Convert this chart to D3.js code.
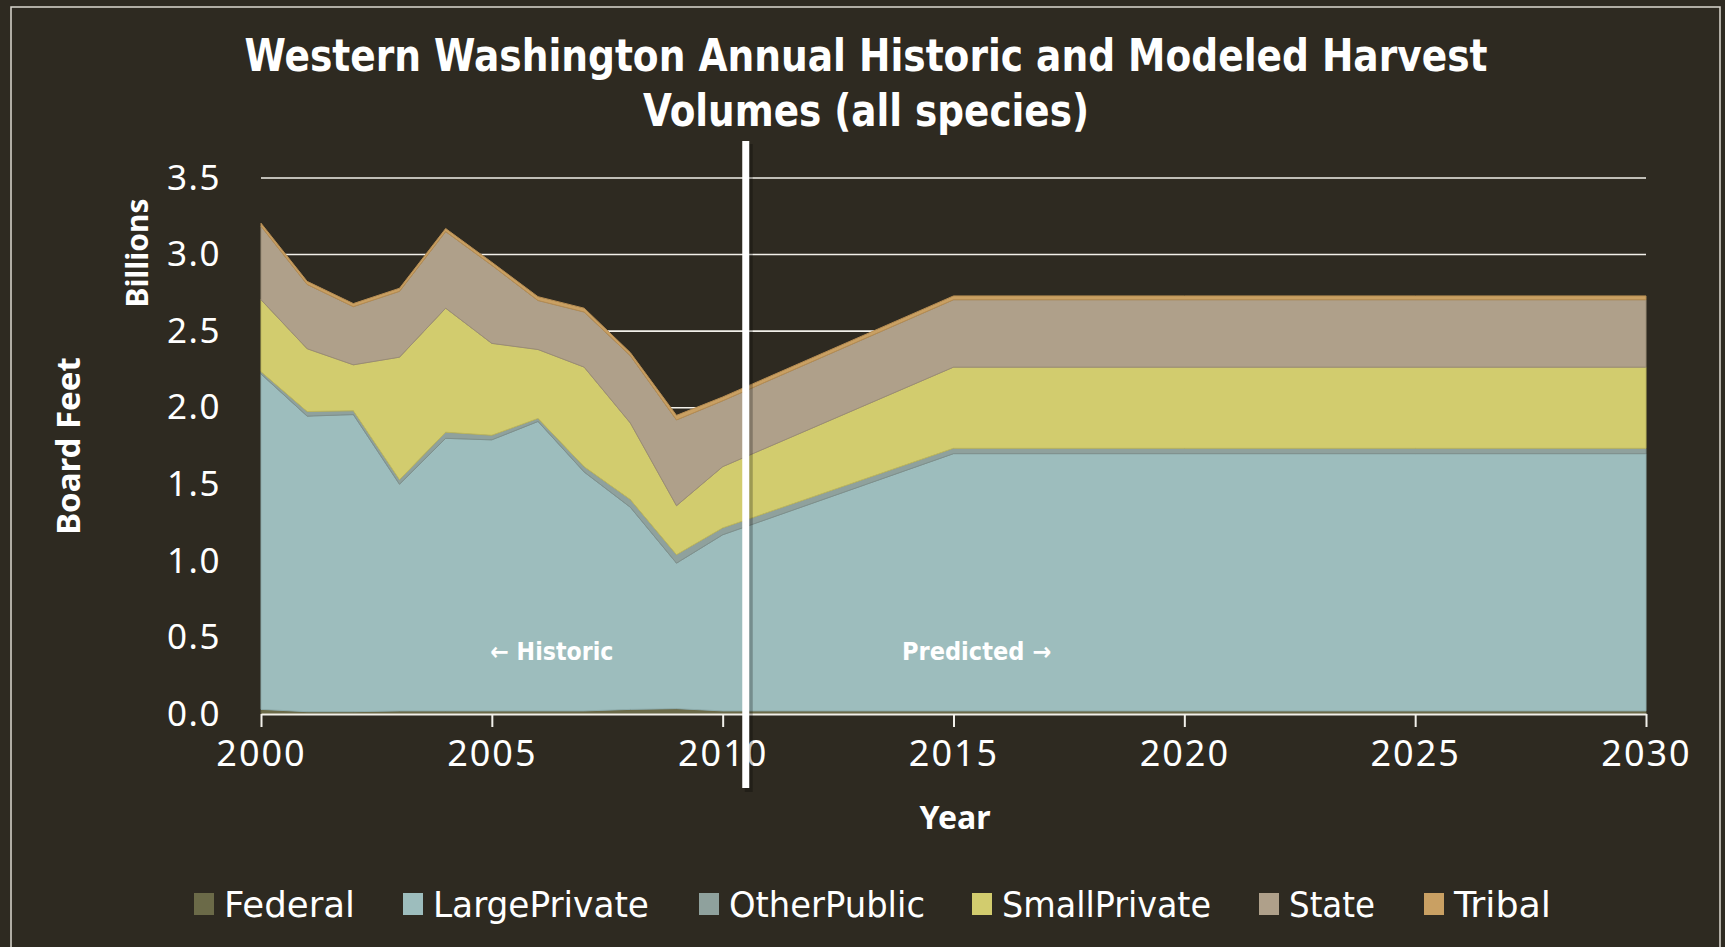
<!DOCTYPE html>
<html>
<head>
<meta charset="utf-8">
<script src="https://d3js.org/d3.v7.min.js"></script>
<style>
  body { margin: 0; background: #2e2a21; }
  svg { display: block; }
</style>
</head>
<body>
<div id="my_dataviz"></div>
<script>
// data (billions of board feet)
var years = [2000, 2001, 2002, 2003, 2004, 2005, 2006, 2007, 2008, 2009, 2010, 2015, 2020, 2025, 2030];
var federal      = [0.03, 0.015, 0.015, 0.02, 0.02, 0.02, 0.02, 0.02, 0.03, 0.035, 0.02, 0.02, 0.02, 0.02, 0.02];
var largePrivate = [2.19, 1.93, 1.94, 1.48, 1.78, 1.77, 1.89, 1.56, 1.32, 0.95, 1.15, 1.68, 1.68, 1.68, 1.68];
var otherPublic  = [0.015, 0.03, 0.025, 0.03, 0.04, 0.03, 0.02, 0.035, 0.05, 0.055, 0.045, 0.035, 0.035, 0.035, 0.035];
var smallPrivate = [0.47, 0.41, 0.30, 0.80, 0.81, 0.60, 0.45, 0.65, 0.50, 0.32, 0.40, 0.53, 0.53, 0.53, 0.53];
var state        = [0.48, 0.42, 0.38, 0.43, 0.50, 0.51, 0.32, 0.36, 0.44, 0.56, 0.43, 0.44, 0.44, 0.44, 0.44];
var tribal       = [0.02, 0.02, 0.02, 0.02, 0.02, 0.02, 0.025, 0.025, 0.02, 0.03, 0.025, 0.025, 0.025, 0.025, 0.025];

var seriesNames = ["Federal", "LargePrivate", "OtherPublic", "SmallPrivate", "State", "Tribal"];
var seriesValues = [federal, largePrivate, otherPublic, smallPrivate, state, tribal];
var colors = ["#6b6a48", "#9dbdbd", "#8fa19d", "#d2cc6e", "#afa08a", "#c9a063"];
var edges  = ["#5e5d3e", "#8eacac", "#7f908c", "#bdb75f", "#9a8c77", "#b58c52"];

var yTicks = [0, 0.5, 1, 1.5, 2, 2.5, 3, 3.5];
var xTicks = [2000, 2005, 2010, 2015, 2020, 2025, 2030];
var splitYear = 2010.5;

var W = 1725, H = 947;
var margin = {top: 178, right: 79, bottom: 233, left: 261};
var width = W - margin.left - margin.right,
    height = H - margin.top - margin.bottom;

var svg = d3.select("#my_dataviz")
  .append("svg")
    .attr("width", W)
    .attr("height", H);

svg.append("rect")
  .attr("width", W).attr("height", H)
  .attr("fill", "#2e2a21");

// thin frame
svg.append("rect")
  .attr("x", 11).attr("y", 7)
  .attr("width", 1709).attr("height", 960)
  .attr("fill", "none")
  .attr("stroke", "#dcd9d0")
  .attr("stroke-width", 1.5);

var g = svg.append("g")
  .attr("transform", "translate(" + margin.left + "," + margin.top + ")");

var x = d3.scaleLinear().domain([2000, 2030]).range([0, width]);
var y = d3.scaleLinear().domain([0, 3.5]).range([height, 0]);

// gridlines
g.append("g")
  .selectAll("line")
  .data(yTicks.slice(1))
  .enter()
  .append("line")
    .attr("x1", 0).attr("x2", width)
    .attr("y1", function(d) { return y(d); })
    .attr("y2", function(d) { return y(d); })
    .attr("stroke", "#f2f0ea")
    .attr("stroke-width", 1.6);

// stack
var table = years.map(function(yr, i) {
  var row = {year: yr};
  seriesNames.forEach(function(n, k) { row[n] = seriesValues[k][i]; });
  return row;
});
var stacked = d3.stack().keys(seriesNames)(table);

var area = d3.area()
  .x(function(d) { return x(d.data.year); })
  .y0(function(d) { return y(d[0]); })
  .y1(function(d) { return y(d[1]); });

g.append("g")
  .selectAll("path")
  .data(stacked)
  .enter()
  .append("path")
    .attr("d", area)
    .attr("fill", function(d, i) { return colors[i]; })
    .attr("stroke", function(d, i) { return edges[i]; })
    .attr("stroke-width", 1)
    .attr("stroke-linejoin", "round");

// x axis
var xAxis = g.append("g")
  .attr("transform", "translate(0," + height + ")")
  .call(d3.axisBottom(x).tickValues(xTicks).tickFormat(d3.format("d")).tickSize(13).tickSizeOuter(0).tickPadding(13));
xAxis.select(".domain").attr("stroke", "#f2f0ea").attr("stroke-width", 2);
xAxis.selectAll(".tick line").attr("stroke", "#f2f0ea").attr("stroke-width", 2);
xAxis.selectAll(".tick text")
  .attr("fill", "#ffffff")
  .style("font-family", "'Noto Sans', sans-serif")
  .style("font-size", "36px")
  .attr("letter-spacing", "2");

// y axis
var yAxis = g.append("g")
  .call(d3.axisLeft(y).tickValues(yTicks).tickFormat(d3.format(".1f")).tickSize(0).tickPadding(40));
yAxis.select(".domain").remove();
yAxis.selectAll(".tick text")
  .attr("fill", "#ffffff")
  .style("font-family", "'Noto Sans', sans-serif")
  .style("font-size", "35px")
  .attr("letter-spacing", "1.5");

// historic / predicted divider
g.append("line")
  .attr("x1", x(splitYear) + 3).attr("x2", x(splitYear) + 3)
  .attr("y1", 141 - margin.top + 3).attr("y2", 788 - margin.top + 4)
  .attr("stroke", "#000").attr("stroke-opacity", 0.25).attr("stroke-width", 8);
g.append("line")
  .attr("x1", x(splitYear)).attr("x2", x(splitYear))
  .attr("y1", 141 - margin.top).attr("y2", 788 - margin.top)
  .attr("stroke", "#ffffff").attr("stroke-width", 7);

g.append("text")
  .attr("x", x(2006.3)).attr("y", y(0.35))
  .attr("text-anchor", "middle")
  .attr("fill", "#ffffff")
  .attr("textLength", 123)
  .attr("lengthAdjust", "spacingAndGlyphs")
  .style("font-family", "'DejaVu Sans Condensed', 'DejaVu Sans', sans-serif")
  .style("font-weight", "bold")
  .style("font-size", "25px")
  .text("\u2190 Historic");

g.append("text")
  .attr("x", x(2015.5)).attr("y", y(0.35))
  .attr("text-anchor", "middle")
  .attr("fill", "#ffffff")
  .attr("textLength", 149)
  .attr("lengthAdjust", "spacingAndGlyphs")
  .style("font-family", "'DejaVu Sans Condensed', 'DejaVu Sans', sans-serif")
  .style("font-weight", "bold")
  .style("font-size", "25px")
  .text("Predicted \u2192");

// title
var title = ["Western Washington Annual Historic and Modeled Harvest", "Volumes (all species)"];
var titleW = [1243, 446];
svg.selectAll(".title")
  .data(title)
  .enter()
  .append("text")
    .attr("class", "title")
    .attr("x", 866)
    .attr("y", function(d, i) { return 71 + i * 55; })
    .attr("text-anchor", "middle")
    .attr("fill", "#ffffff")
    .attr("textLength", function(d, i) { return titleW[i]; })
    .attr("lengthAdjust", "spacingAndGlyphs")
    .style("font-family", "'DejaVu Sans Condensed', 'DejaVu Sans', sans-serif")
    .style("font-weight", "bold")
    .style("font-size", "45px")
    .text(function(d) { return d; });

// axis titles
svg.append("text")
  .attr("transform", "translate(80,446) rotate(-90)")
  .attr("text-anchor", "middle")
  .attr("fill", "#ffffff")
  .style("font-family", "'Noto Sans', sans-serif")
  .style("font-weight", "bold")
  .style("font-size", "33px")
  .text("Board Feet");

svg.append("text")
  .attr("transform", "translate(148,253) rotate(-90)")
  .attr("text-anchor", "middle")
  .attr("fill", "#ffffff")
  .style("font-family", "'Noto Sans', sans-serif")
  .style("font-weight", "bold")
  .style("font-size", "30px")
  .text("Billions");

svg.append("text")
  .attr("x", 955).attr("y", 829)
  .attr("text-anchor", "middle")
  .attr("fill", "#ffffff")
  .style("font-family", "'Noto Sans', sans-serif")
  .style("font-weight", "bold")
  .style("font-size", "32px")
  .text("Year");

// legend
var legendX = [194, 403, 699, 972, 1259, 1424];
var legendW = [131, 216, 196, 209, 86, 97];
var legend = svg.append("g")
  .selectAll("g")
  .data(seriesNames)
  .enter()
  .append("g")
    .attr("transform", function(d, i) { return "translate(" + legendX[i] + ",893)"; });
legend.append("rect")
  .attr("width", 20).attr("height", 22)
  .attr("fill", function(d, i) { return colors[i]; });
legend.append("text")
  .attr("x", 30).attr("y", 24)
  .attr("fill", "#ffffff")
  .attr("textLength", function(d, i) { return legendW[i]; })
  .attr("lengthAdjust", "spacingAndGlyphs")
  .style("font-family", "'DejaVu Sans Condensed', 'DejaVu Sans', sans-serif")
  .style("font-size", "35px")
  .text(function(d) { return d; });
</script>
</body>
</html>
